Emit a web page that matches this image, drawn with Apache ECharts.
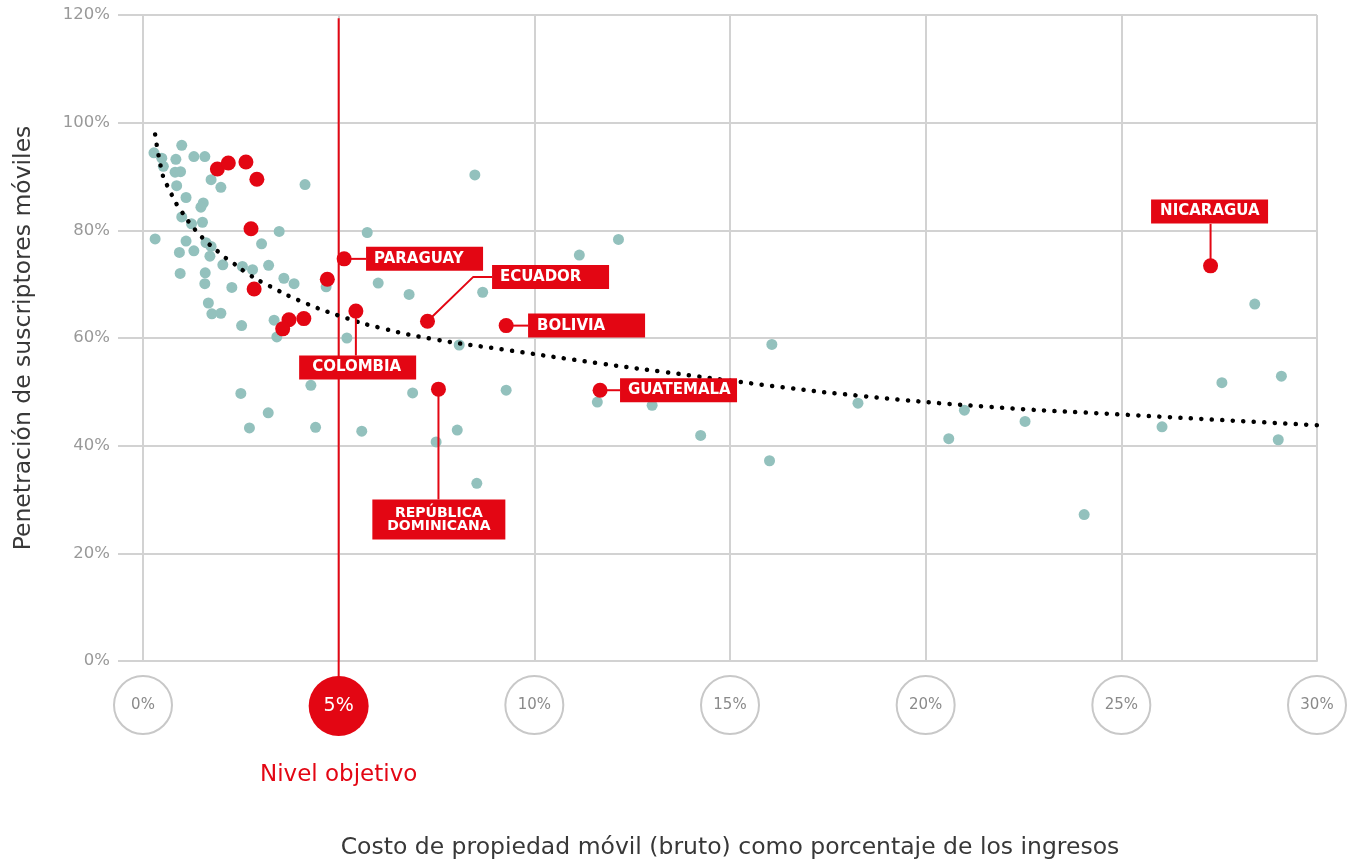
<!DOCTYPE html>
<html>
<head>
<meta charset="utf-8">
<script src="https://cdn.jsdelivr.net/npm/echarts@6/dist/echarts.min.js"></script>
<style>
html,body{margin:0;padding:0;background:#fff;}
#c{width:1352px;height:865px;}
</style>
</head>
<body>
<div id="c"></div>
<script>
// ---- data (x: % of income, y: % penetration) ----
const xTickValues = [0, 5, 10, 15, 20, 25, 30];
const yTickValues = [0, 20, 40, 60, 80, 100, 120];
const targetLevel = 5;

const otherCountries = [
  [0.99,95.8],[0.28,94.4],[0.48,93.4],[0.52,91.9],[0.84,93.2],[1.30,93.7],[1.58,93.7],[0.82,90.8],
  [0.96,90.9],[1.74,89.4],[1.99,88.0],[0.86,88.3],[4.14,88.5],[1.10,86.1],[1.54,85.1],[1.48,84.3],
  [0.99,82.5],[1.24,81.2],[1.52,81.5],[0.31,78.4],[3.48,79.8],[1.10,78.0],[3.03,77.5],[1.61,77.7],
  [1.74,77.0],[0.93,75.9],[1.30,76.2],[1.71,75.2],[2.04,73.6],[2.54,73.3],[2.80,72.7],[3.21,73.5],
  [0.95,72.0],[1.59,72.1],[3.60,71.1],[3.86,70.1],[1.58,70.1],[2.27,69.4],[4.68,69.5],[1.67,66.5],
  [1.76,64.5],[1.99,64.6],[2.52,62.3],[3.35,63.3],[3.42,60.2],[5.21,60.0],[4.29,51.2],[2.50,49.7],
  [3.20,46.1],[2.72,43.3],[4.41,43.4],[5.59,42.7],[6.01,70.2],[5.73,79.6],[8.48,90.3],[6.80,68.1],
  [8.68,68.5],[8.08,58.7],[11.15,75.4],[12.15,78.3],[6.89,49.8],[9.28,50.3],[11.61,48.1],[13.01,47.5],
  [8.03,42.9],[7.49,40.7],[8.53,33.0],[14.25,41.9],[16.07,58.8],[16.01,37.2],[18.27,47.9],[20.59,41.3],
  [20.99,46.6],[22.54,44.5],[24.05,27.2],[26.04,43.5],[27.57,51.7],[28.41,66.3],[29.09,52.9],[29.01,41.1]
];

const latamUnlabeled = [
  [1.90,91.4],[2.18,92.5],[2.63,92.7],[2.91,89.5],[2.76,80.3],
  [2.84,69.1],[4.71,70.9],[3.73,63.4],[4.11,63.6],[3.57,61.7]
];

const labeledNames = ['PARAGUAY','COLOMBIA','ECUADOR','BOLIVIA','REPÚBLICA\nDOMINICANA','GUATEMALA','NICARAGUA'];
const labeledX     = [5.14, 5.44, 7.27, 9.28, 7.55, 11.68, 27.28];
const labeledY     = [74.7, 65.0, 63.1, 62.3, 50.5, 50.3, 73.4];

// trend line
const trendX = [0.31, 0.52, 0.65, 0.77, 0.91, 1.42, 2.04, 2.27, 2.73, 3.22, 3.98, 5.03, 6.11, 7.49, 9.17, 11.65, 13.31, 16.07, 18.27, 21.64, 24.97, 30.0];
const trendY = [97.8, 89.8, 87.9, 86.1, 84.3, 79.4, 75.3, 74.1, 71.7, 69.7, 67.0, 64.1, 61.8, 59.7, 57.9, 55.3, 53.7, 51.1, 49.3, 47.2, 45.8, 43.8];

// ---- callout geometry (data coordinates) ----
const callouts = [
  { bend: [[5.70, 74.7]],                 box: [5.70, 74.7],  mode: 'right', padL: 8 },
  { bend: [[5.44, 56.75]],                box: [3.99, 54.5],  mode: 'right', padL: 13 },
  { bend: [[8.44, 71.35],[8.92, 71.35]],  box: [8.92, 71.35], mode: 'right', padL: 8 },
  { bend: [[9.84, 62.3]],                 box: [9.84, 62.3],  mode: 'right', padL: 9 },
  { bend: [[7.55, 30.0]],                 box: [7.56, 26.3],  mode: 'center', padL: 8 },
  { bend: [[12.19, 50.3]],                box: [12.19, 50.3], mode: 'right', padL: 8 },
  { bend: [[27.28, 81.2]],                box: [25.76, 83.5], mode: 'right', padL: 9 }
];
const targetLineTop = 119.4;
const targetLineBottom = -3;

const RED = '#e30613';
const TEAL = '#93c1bd';
const GRID = '#d2d2d2';
const FONT = 'DejaVu Sans';

const chart = echarts.init(document.getElementById('c'));

const connectorSeries = callouts.map((c, i) => ({
  type: 'line',
  data: [[labeledX[i], labeledY[i]]].concat(c.bend),
  symbol: 'none',
  clip: false,
  silent: true,
  z: 4,
  lineStyle: { color: RED, width: 2 },
  animation: false
}));

const boxData = callouts.map((c, i) => {
  const common = {
    show: true,
    color: '#fff',
    fontFamily: FONT,
    fontWeight: 'bold',
    fontSize: 15,
    backgroundColor: RED,
    formatter: labeledNames[i]
  };
  if (c.mode === 'center') {
    return { value: c.box, label: Object.assign(common, {
      position: 'inside', align: 'center', verticalAlign: 'middle',
      width: 117, lineHeight: 13, fontSize: 14, padding: [7, 8, 7, 8]
    }) };
  }
  return { value: c.box, label: Object.assign(common, {
    position: 'right', distance: 0, align: 'left',
    width: 117 - c.padL - 8, height: 24, lineHeight: 24, padding: [0, 8, 0, c.padL]
  }) };
});

const option = {
  animation: false,
  textStyle: { fontFamily: FONT },
  grid: { left: 143, right: 35, top: 15, bottom: 203 },
  xAxis: {
    type: 'value', min: 0, max: 30, interval: 5,
    axisLine: { show: true, lineStyle: { color: GRID, width: 2 } },
    axisTick: { show: false },
    splitLine: { show: true, lineStyle: { color: GRID, width: 2 } },
    axisLabel: {
      margin: 15,
      formatter: v => v === targetLevel ? '{r|' + v + '%}\n{n|Nivel objetivo}' : '{c|' + v + '%}',
      rich: {
        c: { width: 58, height: 58, lineHeight: 58, borderRadius: 31, borderColor: '#c8c8c8', borderWidth: 2,
             align: 'center', color: '#8a8a8a', fontSize: 15, fontFamily: FONT },
        r: { width: 60, height: 60, lineHeight: 60, borderRadius: 30, backgroundColor: RED,
             align: 'center', color: '#fff', fontSize: 19, fontFamily: FONT },
        n: { lineHeight: 78, align: 'center', color: RED, fontSize: 23, fontFamily: FONT }
      }
    },
    name: 'Costo de propiedad móvil (bruto) como porcentaje de los ingresos',
    nameLocation: 'middle',
    nameGap: 175,
    nameTextStyle: { fontSize: 23.5, color: '#383838', fontFamily: FONT }
  },
  yAxis: {
    type: 'value', min: 0, max: 120, interval: 20,
    axisLine: { show: true, lineStyle: { color: GRID, width: 2 } },
    axisTick: { show: true, length: 25, lineStyle: { color: GRID, width: 2 } },
    splitLine: { show: true, lineStyle: { color: GRID, width: 2 } },
    axisLabel: { formatter: '{value}%', color: '#999', fontSize: 16.5, margin: 33, fontFamily: FONT },
    name: 'Penetración de suscriptores móviles',
    nameLocation: 'middle',
    nameGap: 107,
    nameTextStyle: { fontSize: 23.5, color: '#383838', fontFamily: FONT }
  },
  series: [
    { type: 'scatter', data: otherCountries, symbolSize: 11, itemStyle: { color: TEAL, opacity: 1 }, z: 2, silent: true },
    { type: 'line', data: trendX.map((x, i) => [x, trendY[i]]), smooth: true, symbol: 'none', z: 3, silent: true,
      lineStyle: { color: '#000', width: 4.5, type: [0.1, 10.4], cap: 'round' } },
    { type: 'line', data: [[targetLevel, targetLineTop], [targetLevel, targetLineBottom]], symbol: 'none', clip: false, silent: true, z: 1,
      lineStyle: { color: RED, width: 2 } }
  ].concat(connectorSeries).concat([
    { type: 'scatter', data: latamUnlabeled, symbolSize: 15, itemStyle: { color: RED, opacity: 1 }, z: 5, silent: true },
    { type: 'scatter', data: labeledX.map((x, i) => [x, labeledY[i]]), symbolSize: 15, itemStyle: { color: RED, opacity: 1 }, z: 5, silent: true },
    { type: 'scatter', data: boxData, symbolSize: 0, itemStyle: { opacity: 1 }, z: 6, silent: true, clip: false }
  ])
};

chart.setOption(option);
</script>
</body>
</html>
